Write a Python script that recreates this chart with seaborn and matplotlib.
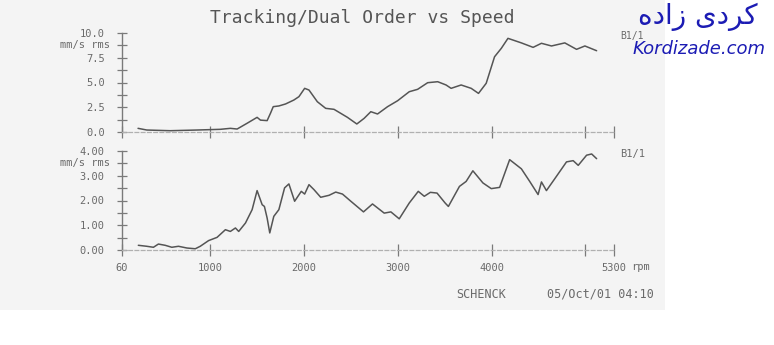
import matplotlib
matplotlib.use("Agg")
import matplotlib.pyplot as plt
import seaborn as sns
import pandas as pd
from matplotlib.patches import Rectangle
from matplotlib.ticker import MultipleLocator

# ---- data ----
top_rpm = [231, 324, 573, 859, 1108, 1215, 1287, 1393, 1500, 1536, 1607, 1643, 1672, 1732, 1803,
           1892, 1946, 2007, 2053, 2142, 2231, 2320, 2463, 2563, 2641, 2712, 2784, 2891, 2998, 3122,
           3211, 3318, 3425, 3514, 3568, 3675, 3782, 3860, 3942, 4031, 4103, 4174, 4317, 4442, 4531,
           4638, 4780, 4905, 4994, 5119]
top_val = [0.37, 0.2, 0.13, 0.2, 0.27, 0.37, 0.3, 0.88, 1.48, 1.2, 1.15, 1.9, 2.56, 2.63, 2.83,
           3.23, 3.57, 4.41, 4.24, 3.06, 2.39, 2.29, 1.48, 0.81, 1.38, 2.05, 1.82, 2.56, 3.16, 4.07,
           4.31, 4.98, 5.08, 4.75, 4.41, 4.75, 4.41, 3.9, 4.92, 7.6, 8.45, 9.46, 9.0, 8.55, 8.96,
           8.69, 9.0, 8.35, 8.69, 8.21]

bot_rpm = [234, 324, 395, 448, 520, 591, 662, 752, 841, 894, 983, 1073, 1162, 1215, 1269,
           1304, 1376, 1447, 1500, 1554, 1578, 1607, 1635, 1678, 1732, 1793, 1839, 1900, 1971, 2007,
           2053, 2106, 2178, 2267, 2338, 2410, 2499, 2634, 2730, 2855, 2926, 3015, 3122, 3218, 3282,
           3347, 3418, 3504, 3539, 3657, 3728, 3800, 3907, 3996, 4085, 4192, 4253, 4317, 4406, 4495,
           4531, 4584, 4673, 4798, 4869, 4923, 5012, 5066, 5119]
bot_val = [0.19, 0.15, 0.11, 0.24, 0.19, 0.11, 0.15, 0.08, 0.05, 0.15, 0.38, 0.51, 0.82, 0.75, 0.89,
           0.75, 1.09, 1.63, 2.40, 1.83, 1.76, 1.29, 0.69, 1.36, 1.63, 2.51, 2.67, 1.97, 2.37, 2.26,
           2.64, 2.44, 2.13, 2.21, 2.34, 2.26, 1.97, 1.54, 1.86, 1.49, 1.54, 1.26, 1.90, 2.37, 2.17,
           2.33, 2.30, 1.90, 1.76, 2.57, 2.77, 3.20, 2.71, 2.48, 2.53, 3.65, 3.47, 3.28, 2.77, 2.24,
           2.75, 2.40, 2.88, 3.56, 3.61, 3.42, 3.83, 3.88, 3.69]

x_ticks = [60, 1000, 2000, 3000, 4000, 5000, 5300]
x_labels = ["60", "1000", "2000", "3000", "4000", "", "5300"]
top_yticks = [0, 2.5, 5, 7.5, 10]
top_ylabels = ["0.0", "2.5", "5.0", "7.5", "10.0"]
bot_yticks = [0, 1, 2, 3, 4]
bot_ylabels = ["0.00", "1.00", "2.00", "3.00", "4.00"]

title = "Tracking/Dual Order vs Speed"
unit = "mm/s rms"

sns.set_theme(style="white")
plt.rcParams["font.family"] = ["DejaVu Sans Mono", "DejaVu Sans"]

W, H = 774, 345
fig = plt.figure(figsize=(W / 100, H / 100), dpi=100, facecolor="white")

def fx(px):
    return px / W

def fy(py):
    return 1 - py / H

# paper background of the scan
fig.patches.append(Rectangle((0, fy(310)), fx(665), 310 / H, transform=fig.transFigure,
                             facecolor="#f4f4f4", edgecolor="none", zorder=-10))

ax_left = fx(122)
ax_w = (613.6 - 122) / W
ax_top = fig.add_axes([ax_left, fy(132), ax_w, 99 / H])
ax_bot = fig.add_axes([ax_left, fy(250), ax_w, 99 / H])

df_top = pd.DataFrame({"rpm": top_rpm, "val": top_val})
df_bot = pd.DataFrame({"rpm": bot_rpm, "val": bot_val})

line_col = "#555555"
axis_col = "#7a7a7a"
text_col = "#6a6a6a"

sns.lineplot(data=df_top, x="rpm", y="val", ax=ax_top, color=line_col, lw=1.1, sort=False)
sns.lineplot(data=df_bot, x="rpm", y="val", ax=ax_bot, color=line_col, lw=1.1, sort=False)

for ax, yt, yl, ymax, minor in [(ax_top, top_yticks, top_ylabels, 10, 1.25),
                               (ax_bot, bot_yticks, bot_ylabels, 4, 0.5)]:
    ax.set_facecolor("none")
    ax.set_xlim(60, 5300)
    ax.set_ylim(0, ymax)
    ax.set_xlabel("")
    ax.set_ylabel("")
    for s in ["top", "right"]:
        ax.spines[s].set_visible(False)
    ax.spines["left"].set_color(axis_col)
    ax.spines["left"].set_linewidth(1.0)
    ax.spines["bottom"].set_color("#b0b0b0")
    ax.spines["bottom"].set_linewidth(0.9)
    ax.spines["bottom"].set_linestyle((0, (3, 2)))
    ax.set_yticks(yt)
    ax.set_yticklabels(yl)
    ax.yaxis.set_minor_locator(MultipleLocator(minor))
    ax.set_xticks(x_ticks)
    ax.tick_params(axis="y", which="both", direction="inout", length=7, width=0.9,
                   color=axis_col, labelsize=7.5, labelcolor=text_col, pad=9, left=True)
    ax.tick_params(axis="x", which="both", direction="inout", length=9, width=0.9,
                   color=axis_col, labelsize=7.5, labelcolor=text_col, pad=5, bottom=True)
    ax.text(-0.024, (ymax - minor) / ymax, unit, transform=ax.transAxes, ha="right", va="center",
            fontsize=7.5, color=text_col)
    ax.grid(False)

ax_top.set_xticklabels([""] * len(x_ticks))
ax_bot.set_xticklabels(x_labels)

fig.text(fx(362), fy(18), title, ha="center", va="center", fontsize=13, color="#555555")
fig.text(fx(620), fy(36), "B1/1", ha="left", va="center", fontsize=7, color=text_col)
fig.text(fx(620), fy(154), "B1/1", ha="left", va="center", fontsize=7.5, color=text_col)
fig.text(fx(631), fy(267), "rpm", ha="left", va="center", fontsize=7.5, color=text_col)
fig.text(fx(481), fy(294), "SCHENCK", ha="center", va="center", fontsize=8.5, color=text_col)
fig.text(fx(600), fy(294), "05/Oct/01 04:10", ha="center", va="center", fontsize=8.5, color=text_col)

# watermark
persian = "\uFEE9\uFEA9\uFE8D\uFEAF \uFBFC\uFEA9\uFEAE\uFB90"  # کردی زاده (visual order)
fig.text(fx(698), fy(17), persian, ha="center", va="center", fontsize=20,
         color="#1c1cb4", family=["DejaVu Sans"])
fig.text(fx(699), fy(49), "Kordizade.com", ha="center", va="center", fontsize=13,
         color="#1c1cb4", family=["DejaVu Sans"], style="italic")

fig.savefig("out.png", dpi=100, facecolor="white")
